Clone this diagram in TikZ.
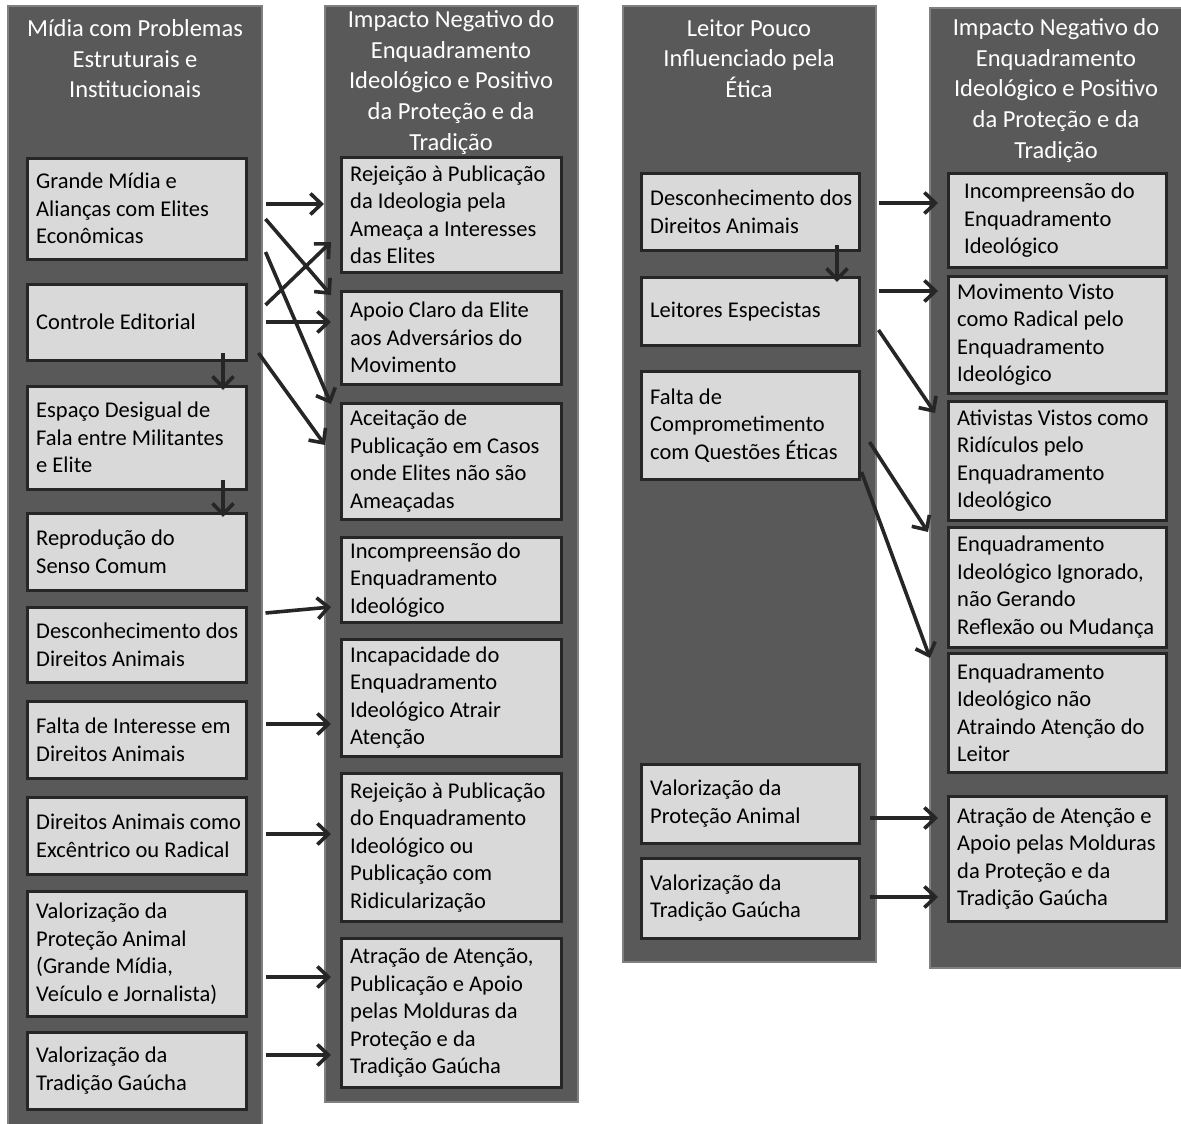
\documentclass[tikz,border=0pt]{standalone}
\usepackage{fontspec}
\setmainfont{Carlito}
\usetikzlibrary{arrows.meta,calc}

\definecolor{panelfill}{HTML}{595959}
\definecolor{panelline}{HTML}{808080}
\definecolor{boxfill}{HTML}{D9D9D9}
\definecolor{ink}{HTML}{262626}

\tikzset{
  panel/.style={fill=panelfill, draw=panelline, line width=2.5pt},
  paneltitle/.style={anchor=north, align=center, inner sep=0pt, text=white,
    font=\fontsize{24.5pt}{30.8pt}\selectfont},
  tbox/.style={anchor=north west, rectangle, fill=boxfill, draw=ink, line width=2.5pt,
    inner sep=0pt},
  ttext/.style={anchor=west, align=left, inner sep=0pt, text=black,
    font=\fontsize{22.5pt}{27.5pt}\selectfont},
  link/.style={draw=ink, line width=3.6pt, -{Straight Barb[length=11pt,width=21pt]}},
}

% #1 text indent, #2 name, #3 x, #4 y (top left), #5 width, #6 height, #7 text
\newcommand\textbox[7][10pt]{%
  \node[tbox, minimum width=#5, minimum height=#6] (#2) at (#3,#4) {};
  \node[ttext] (#2t) at ([xshift=#1]#2.west) {#7};}

\begin{document}
\begin{tikzpicture}[x=1pt,y=-1pt]
\useasboundingbox (0,0) rectangle (1181,1124);

% columns
\path[panel] (8,6) rectangle (262,1135);
\path[panel] (325,6) rectangle (578,1102);
\path[panel] (623,6) rectangle (876,962);
\path[panel] (930,8) rectangle (1190,968);

\node[paneltitle] (h1) at (135,19) {Mídia com Problemas\\Estruturais e\\Institucionais};
\node[paneltitle] (h2) at (451,10) {Impacto Negativo do\\Enquadramento\\Ideológico e Positivo\\da Proteção e da\\Tradição};
\node[paneltitle] (h3) at (749,19) {Leitor Pouco\\Influenciado pela\\Ética};
\node[paneltitle] (h4) at (1056,18) {Impacto Negativo do\\Enquadramento\\Ideológico e Positivo\\da Proteção e da\\Tradição};

% first column
\textbox{a1}{26}{157}{219}{101}{Grande Mídia e\\Alianças com Elites\\Econômicas}
\textbox{a2}{26}{283}{219}{76}{Controle Editorial}
\textbox{a3}{26}{385}{219}{103}{Espaço Desigual de\\Fala entre Militantes\\e Elite}
\textbox{a4}{26}{512}{219}{77}{Reprodução do\\Senso Comum}
\textbox{a5}{26}{606}{219}{75}{Desconhecimento dos\\Direitos Animais}
\textbox{a6}{26}{700}{219}{77}{Falta de Interesse em\\Direitos Animais}
\textbox{a7}{26}{796}{219}{77}{Direitos Animais como\\Excêntrico ou Radical}
\textbox{a8}{26}{890}{219}{125}{Valorização da\\Proteção Animal\\(Grande Mídia,\\Veículo e Jornalista)}
\textbox{a9}{26}{1031}{219}{77}{Valorização da\\Tradição Gaúcha}

% second column
\textbox{b1}{340}{156}{220}{115}{Rejeição à Publicação\\da Ideologia pela\\Ameaça a Interesses\\das Elites}
\textbox{b2}{340}{290}{220}{93}{Apoio Claro da Elite\\aos Adversários do\\Movimento}
\textbox{b3}{340}{402}{220}{116}{Aceitação de\\Publicação em Casos\\onde Elites não são\\Ameaçadas}
\textbox{b4}{340}{536}{220}{85}{Incompreensão do\\Enquadramento\\Ideológico}
\textbox{b5}{340}{638}{220}{117}{Incapacidade do\\Enquadramento\\Ideológico Atrair\\Atenção}
\textbox{b6}{340}{772}{220}{148}{Rejeição à Publicação\\do Enquadramento\\Ideológico ou\\Publicação com\\Ridicularização}
\textbox{b7}{340}{937}{220}{149}{Atração de Atenção,\\Publicação e Apoio\\pelas Molduras da\\Proteção e da\\Tradição Gaúcha}

% third column
\textbox{c1}{640}{172}{218}{77}{Desconhecimento dos\\Direitos Animais}
\textbox{c2}{640}{276}{218}{68}{Leitores Especistas}
\textbox{c3}{640}{370}{218}{108}{Falta de\\Comprometimento\\com Questões Éticas}
\textbox{c4}{640}{763}{218}{79}{Valorização da\\Proteção Animal}
\textbox{c5}{640}{857}{218}{80}{Valorização da\\Tradição Gaúcha}

% fourth column
\textbox[17pt]{d1}{947}{172}{218}{94}{Incompreensão do\\Enquadramento\\Ideológico}
\textbox{d2}{947}{275}{218}{117}{Movimento Visto\\como Radical pelo\\Enquadramento\\Ideológico}
\textbox{d3}{947}{400}{218}{119}{Ativistas Vistos como\\Ridículos pelo\\Enquadramento\\Ideológico}
\textbox{d4}{947}{526}{218}{120}{Enquadramento\\Ideológico Ignorado,\\não Gerando\\Reflexão ou Mudança}
\textbox{d5}{947}{652}{218}{119}{Enquadramento\\Ideológico não\\Atraindo Atenção do\\Leitor}
\textbox{d6}{947}{795}{218}{125}{Atração de Atenção e\\Apoio pelas Molduras\\da Proteção e da\\Tradição Gaúcha}

% connectors, media side
\draw[link] ($(a1.north east)+(18,47)$) -- ($(b1.north west)+(-16,48)$);
\draw[link] ($(a1.north east)+(18,62)$) -- ($(b2.north west)+(-9,5)$);
\draw[link] ($(a1.north east)+(18,95)$) -- ($(b3.north west)+(-9,2)$);
\draw[link] ($(a2.north east)+(18,22)$) -- ($(b1.north west)+(-9,86)$);
\draw[link] ($(a2.north east)+(18,39)$) -- ($(b2.north west)+(-9,32)$);
\draw[link] ($(a2.north east)+(11,70)$) -- ($(b3.north west)+(-15,43)$);
\draw[link] ($(a2.north west)+(197,70)$) -- ($(a3.north west)+(197,5)$);
\draw[link] ($(a3.north west)+(197,95)$) -- ($(a4.north west)+(197,5)$);
\draw[link] ($(a5.north east)+(18,7)$) -- ($(b4.north west)+(-9,71)$);
\draw[link] ($(a6.north east)+(18,24)$) -- ($(b5.north west)+(-9,86)$);
\draw[link] ($(a7.north east)+(18,38)$) -- ($(b6.north west)+(-9,62)$);
\draw[link] ($(a8.north east)+(18,87)$) -- ($(b7.north west)+(-9,40)$);
\draw[link] ($(a9.north east)+(18,24)$) -- ($(b7.north west)+(-9,118)$);

% connectors, reader side
\draw[link] ($(c1.north east)+(18,31)$) -- ($(d1.north west)+(-9,31)$);
\draw[link] ($(c1.north west)+(197,73)$) -- ($(c2.north west)+(197,6)$);
\draw[link] ($(c2.north east)+(18,15)$) -- ($(d2.north west)+(-9,16)$);
\draw[link] ($(c2.north east)+(18,54)$) -- ($(d3.north west)+(-12,13)$);
\draw[link] ($(c3.north east)+(9,72)$) -- ($(d4.north west)+(-19,6)$);
\draw[link] ($(c3.north east)+(1,102)$) -- ($(d5.north west)+(-17,6)$);
\draw[link] ($(c4.north east)+(9,55)$) -- ($(d6.north west)+(-9,23)$);
\draw[link] ($(c5.north east)+(9,40)$) -- ($(d6.north west)+(-9,102)$);
\end{tikzpicture}
\end{document}
